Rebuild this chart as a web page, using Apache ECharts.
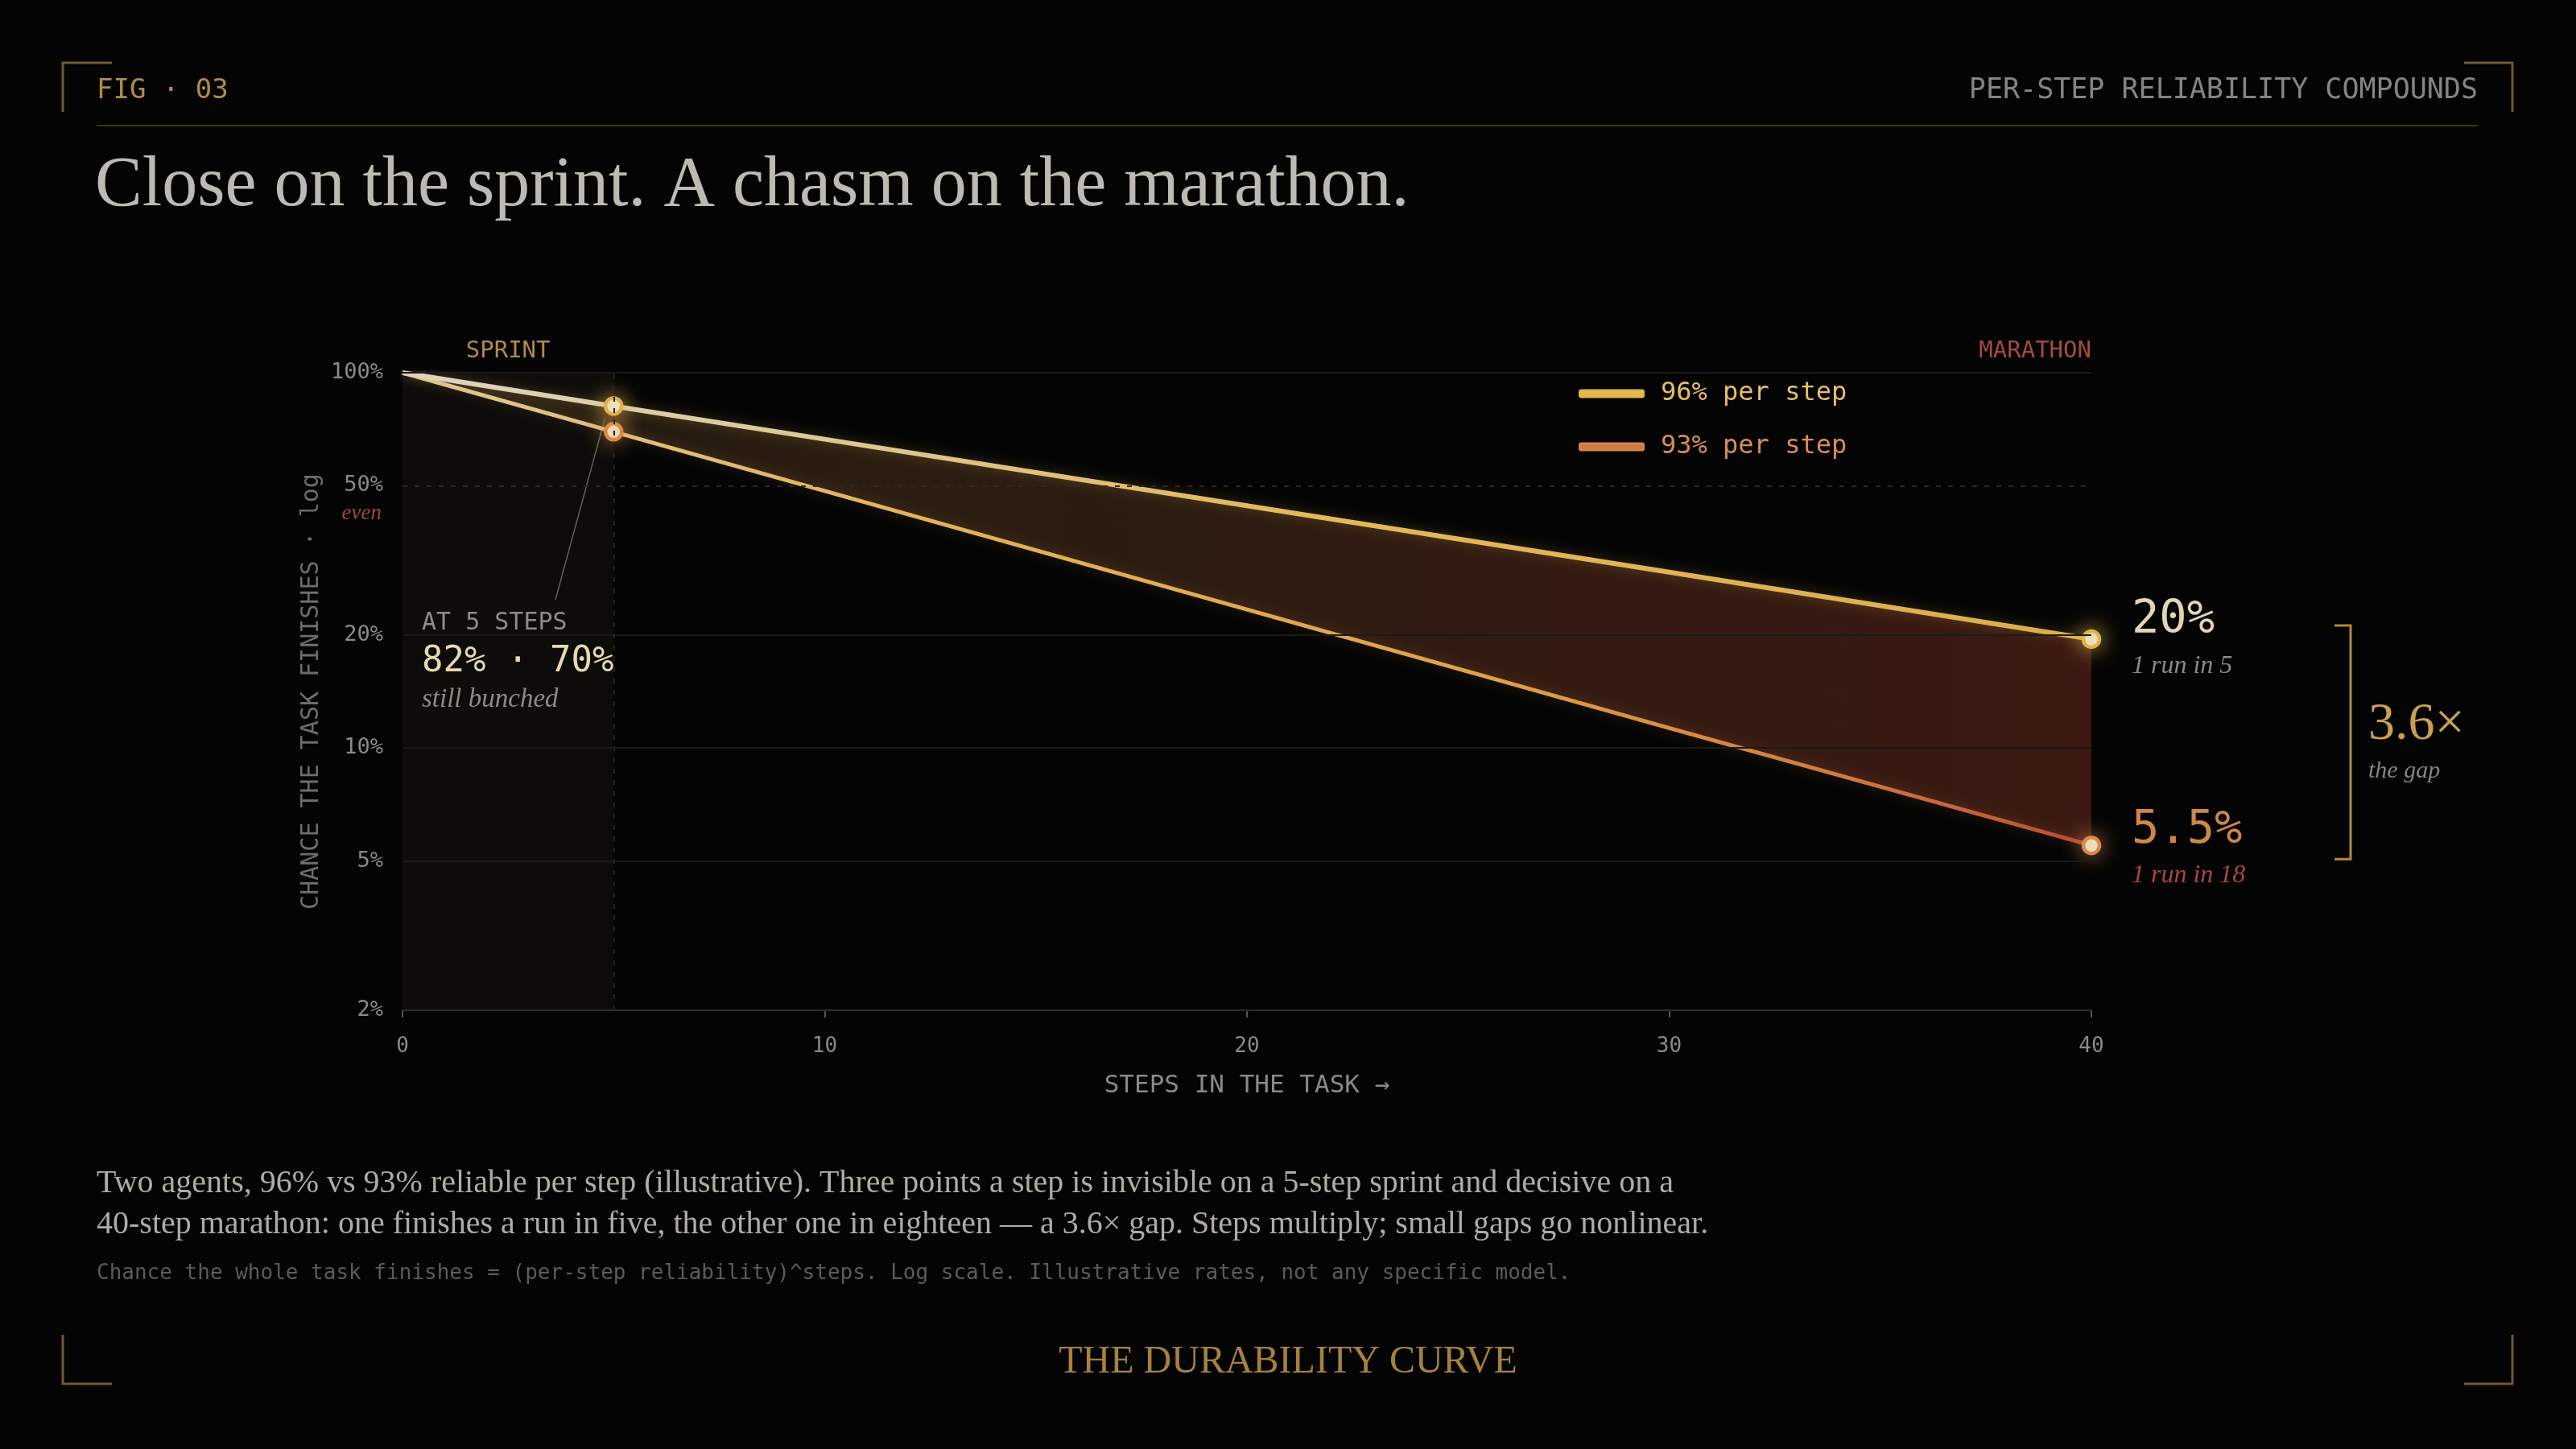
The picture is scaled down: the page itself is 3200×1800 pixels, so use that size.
<!DOCTYPE html>
<html>
<head>
<meta charset="utf-8">
<title>The Durability Curve</title>
<script src="https://cdn.jsdelivr.net/npm/echarts@6/dist/echarts.min.js"></script>
<style>
html, body { margin: 0; padding: 0; background: #040404; }
#chart { width: 3200px; height: 1800px; }
</style>
</head>
<body>
<div id="chart"></div>
<script>
// chance the whole task finishes
var steps = [0, 5, 10, 20, 30, 40];
var reach96 = [1, 0.815, 0.665, 0.442, 0.294, 0.195];
var reach93 = [1, 0.696, 0.484, 0.234, 0.113, 0.055];
var markedSteps = [5, 40];

// axis ticks
var xTicks = [0, 10, 20, 30, 40];
var yTicks = [1, 0.5, 0.2, 0.1, 0.05, 0.02];
var yTickLabels = ['100%', '50%', '20%', '10%', '5%', '2%'];

var MONO = '"DejaVu Sans Mono", monospace';
var SERIF = '"Liberation Serif", serif';

var chart = echarts.init(document.getElementById('chart'));

function lineData(values) {
	return steps.map(function (s, i) {
		var item = { value: [s, values[i]] };
		if (markedSteps.indexOf(s) < 0) {
			item.symbol = 'none';
		}
		return item;
	});
}

// grid lines + y labels as markLines so they sit on the log scale
var gridLines = yTicks.map(function (v, i) {
	var style = { color: '#1b1a18', width: 2, type: 'solid' };
	if (v === 0.5) {
		style = { color: '#2a2925', width: 2, type: [6, 9] };
	}
	if (v === yTicks[yTicks.length - 1]) {
		style = { color: '#2c2b28', width: 2, type: 'solid' };
	}
	return { yAxis: v, name: yTickLabels[i], lineStyle: style };
});
gridLines.push({
	xAxis: markedSteps[0],
	name: '',
	label: { show: false },
	lineStyle: { color: '#23211d', width: 2, type: [6, 8] }
});

var option = {
	backgroundColor: '#040404',
	animation: false,
	grid: { left: 500, right: 602, top: 463, bottom: 545 },
	legend: {
		left: 1956,
		top: 468,
		orient: 'vertical',
		icon: 'roundRect',
		itemWidth: 80,
		itemHeight: 9,
		itemGap: 34,
		selectedMode: false,
		textStyle: { fontFamily: MONO, fontSize: 32, padding: [0, 0, 0, 16] },
		data: [
			{ name: '96% per step', itemStyle: { color: '#e2b850' }, textStyle: { color: '#e6be6a' } },
			{ name: '93% per step', itemStyle: { color: '#cf7c44' }, textStyle: { color: '#d98e56' } }
		]
	},
	xAxis: {
		type: 'value',
		min: xTicks[0],
		max: xTicks[xTicks.length - 1],
		interval: xTicks[1] - xTicks[0],
		axisLine: { show: false },
		axisTick: { show: true, length: 9, lineStyle: { color: '#56554f', width: 2 } },
		axisLabel: { color: '#8a8984', fontFamily: MONO, fontSize: 26, margin: 32 },
		splitLine: { show: false },
		name: 'STEPS IN THE TASK →',
		nameLocation: 'middle',
		nameGap: 78,
		nameTextStyle: { color: '#8a8984', fontFamily: MONO, fontSize: 31 }
	},
	yAxis: {
		type: 'log',
		logBase: 10,
		min: yTicks[yTicks.length - 1],
		max: yTicks[0],
		axisLine: { show: false },
		axisTick: { show: false },
		axisLabel: { show: false },
		splitLine: { show: false },
		name: 'CHANCE THE TASK FINISHES · log',
		nameLocation: 'middle',
		nameRotate: 90,
		nameGap: 98,
		nameTextStyle: { color: '#6e6d68', fontFamily: MONO, fontSize: 30 }
	},
	series: [
		{
			// the widening gap between the two curves
			name: 'gap',
			type: 'custom',
			z: 1,
			silent: true,
			data: [[0, 1]],
			renderItem: function (params, api) {
				var pts = [];
				steps.forEach(function (s, i) { pts.push(api.coord([s, reach96[i]])); });
				for (var i = steps.length - 1; i >= 0; i--) {
					pts.push(api.coord([steps[i], reach93[i]]));
				}
				return {
					type: 'polygon',
					shape: { points: pts },
					style: {
						fill: new echarts.graphic.LinearGradient(0, 0, 1, 0, [
							{ offset: 0, color: 'rgba(80,60,30,0.3)' },
							{ offset: 0.4, color: 'rgba(50,32,18,0.85)' },
							{ offset: 1, color: 'rgba(62,26,18,0.95)' }
						])
					}
				};
			},
			markArea: {
				silent: true,
				itemStyle: { color: 'rgba(255,236,190,0.04)' },
				data: [[{ xAxis: steps[0] }, { xAxis: markedSteps[0] }]]
			},
			markLine: {
				silent: true,
				symbol: 'none',
				label: {
					show: true,
					position: 'start',
					distance: 24,
					formatter: '{b}',
					color: '#8a8984',
					fontFamily: MONO,
					fontSize: 27
				},
				data: gridLines
			}
		},
		{
			name: '96% per step',
			type: 'line',
			z: 4,
			data: lineData(reach96),
			symbol: 'circle',
			symbolSize: 20,
			showSymbol: true,
			itemStyle: {
				color: '#f0e6cc',
				borderColor: '#e2b24a',
				borderWidth: 4.5,
				shadowBlur: 26,
				shadowColor: 'rgba(240,190,90,0.8)'
			},
			lineStyle: {
				width: 6,
				color: new echarts.graphic.LinearGradient(0, 0, 1, 0, [
					{ offset: 0, color: '#dcd4c2' },
					{ offset: 0.2, color: '#dccaa0' },
					{ offset: 0.55, color: '#e2b858' },
					{ offset: 1, color: '#dcae4c' }
				]),
				shadowBlur: 14,
				shadowColor: 'rgba(230,180,80,0.3)'
			},
			emphasis: { disabled: true }
		},
		{
			name: '93% per step',
			type: 'line',
			z: 3,
			data: lineData(reach93),
			symbol: 'circle',
			symbolSize: 20,
			showSymbol: true,
			itemStyle: {
				color: '#f0e6cc',
				borderColor: '#d88a48',
				borderWidth: 4.5,
				shadowBlur: 26,
				shadowColor: 'rgba(230,150,80,0.7)'
			},
			lineStyle: {
				width: 5,
				color: new echarts.graphic.LinearGradient(0, 0, 1, 0, [
					{ offset: 0, color: '#dcc89a' },
					{ offset: 0.3, color: '#e0b458' },
					{ offset: 0.65, color: '#e0a048' },
					{ offset: 0.85, color: '#d07a40' },
					{ offset: 1, color: '#b84a32' }
				]),
				shadowBlur: 14,
				shadowColor: 'rgba(220,140,70,0.25)'
			},
			emphasis: { disabled: true }
		}
	]
};
chart.setOption(option);

/*************************** frame, titles and notes ***************************/
function px(s, v) {
	return chart.convertToPixel({ gridIndex: 0 }, [s, v]);
}
function txt(x, y, text, font, fill, align, vAlign) {
	return {
		type: 'text',
		silent: true,
		style: {
			x: x, y: y, text: text, font: font, fill: fill,
			align: align || 'left', verticalAlign: vAlign || 'middle'
		}
	};
}
function stroke(points, color, width) {
	return {
		type: 'polyline',
		silent: true,
		shape: { points: points },
		style: { stroke: color, lineWidth: width, fill: null }
	};
}

var last = steps.length - 1;
var topL = px(steps[0], yTicks[0]);
var topR = px(steps[last], yTicks[0]);
var sprintR = px(markedSteps[0], yTicks[0]);
var at5 = px(markedSteps[0], reach93[1]);
var note = px(steps[0], yTicks[2]);
var end96 = px(steps[last], reach96[last]);
var end93 = px(steps[last], reach93[last]);
var even = px(steps[0], yTicks[1]);
var brX = end96[0] + 322;

var corner = '#6d5a2e';
var elements = [
	stroke([[78, 139], [78, 78], [139, 78]], corner, 3),
	stroke([[3061, 78], [3121, 78], [3121, 139]], corner, 3),
	stroke([[78, 1658], [78, 1719], [139, 1719]], corner, 3),
	stroke([[3061, 1719], [3121, 1719], [3121, 1658]], corner, 3),
	stroke([[120, 156], [3078, 156]], '#3b3322', 2),
	txt(120, 113, 'FIG · 03', '34px ' + MONO, '#b08a48'),
	txt(3078, 113, 'PER-STEP RELIABILITY COMPOUNDS', '35px ' + MONO, '#85847e', 'right'),
	txt(118, 232, 'Close on the sprint. A chasm on the marathon.', '88px ' + SERIF, '#bcbab2'),

	txt((topL[0] + sprintR[0]) / 2, topL[1] - 27, 'SPRINT', '29px ' + MONO, '#b08a48', 'center'),
	txt(topR[0], topR[1] - 27, 'MARATHON', '29px ' + MONO, '#a24c3c', 'right'),
	txt(even[0] - 26, even[1] + 35, 'even', 'italic 27px ' + SERIF, '#9a4a3a', 'right'),

	stroke([[at5[0] - 11, at5[1] - 16], [note[0] + 190, note[1] - 44]], '#5e5d58', 1.5),
	txt(note[0] + 24, note[1] - 15, 'AT 5 STEPS', '30px ' + MONO, '#8a8982'),
	txt(note[0] + 24, note[1] + 34, '82% · 70%', '44px ' + MONO, '#e6d8b0'),
	txt(note[0] + 24, note[1] + 80, 'still bunched', 'italic 33px ' + SERIF, '#8a8980'),

	txt(end96[0] + 50, end96[1] - 23, '20%', '57px ' + MONO, '#e2d6b2'),
	txt(end96[0] + 50, end96[1] + 34, '1 run in 5', 'italic 32px ' + SERIF, '#8a8982'),
	txt(end93[0] + 50, end93[1] - 18, '5.5%', '57px ' + MONO, '#cc8848'),
	txt(end93[0] + 50, end93[1] + 37, '1 run in 18', 'italic 32px ' + SERIF, '#a44a38'),

	stroke([[brX - 20, end96[1] - 17], [brX, end96[1] - 17], [brX, end93[1] + 17], [brX - 20, end93[1] + 17]], '#b08a40', 3),
	txt(brX + 22, (end96[1] + end93[1]) / 2 - 21, '3.6×', '66px ' + SERIF, '#c9a050'),
	txt(brX + 22, (end96[1] + end93[1]) / 2 + 36, 'the gap', 'italic 30px ' + SERIF, '#85847e'),

	{
		type: 'text',
		silent: true,
		style: {
			x: 120, y: 1445,
			text: 'Two agents, 96% vs 93% reliable per step (illustrative). Three points a step is invisible on a 5-step sprint and decisive on a\n40-step marathon: one finishes a run in five, the other one in eighteen — a 3.6× gap. Steps multiply; small gaps go nonlinear.',
			font: '40px ' + SERIF,
			lineHeight: 51,
			fill: '#aeaca4',
			align: 'left',
			verticalAlign: 'top'
		}
	},
	txt(120, 1582, 'Chance the whole task finishes = (per-step reliability)^steps. Log scale. Illustrative rates, not any specific model.', '26px ' + MONO, '#5c5b57'),
	txt(1600, 1692, 'THE DURABILITY CURVE', '48px ' + SERIF, '#a4823e', 'center')
];

chart.setOption({ graphic: elements });
</script>
</body>
</html>
